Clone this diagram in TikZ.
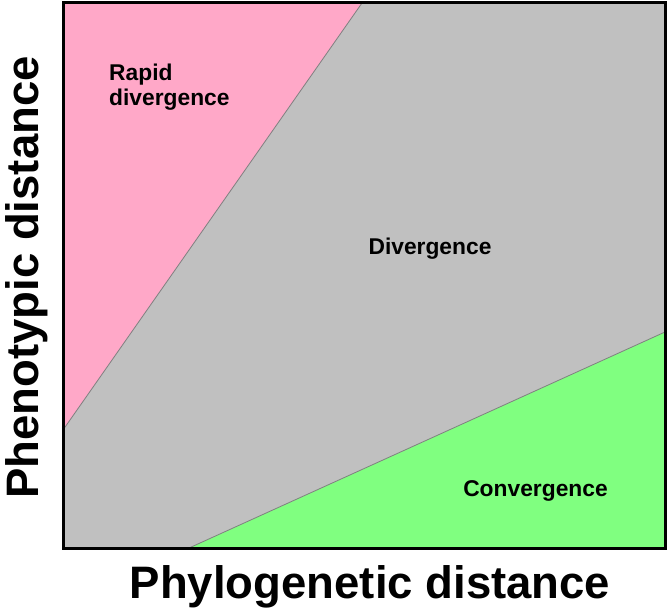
\documentclass[tikz,border=0pt]{standalone}
\usepackage{fontspec}
\setmainfont{Liberation Sans}
\definecolor{rpink}{HTML}{FFA8C8}
\definecolor{rgray}{HTML}{C0C0C0}
\definecolor{rgreen}{HTML}{80FF80}
\definecolor{rline}{HTML}{808080}
\begin{document}
\begin{tikzpicture}[x=1pt,y=-1pt,
  region/.style={draw=rline,line width=0.8pt},
  small/.style={font=\bfseries\fontsize{22.8}{25}\selectfont,inner sep=0pt},
  axis/.style={font=\bfseries\fontsize{45.5}{50}\selectfont,inner sep=0pt}]
\useasboundingbox (0,0) rectangle (668,610);
\coordinate (TL) at (63,3);
\coordinate (TR) at (665,3);
\coordinate (BR) at (665,548);
\coordinate (BL) at (63,548);
\coordinate (P1) at (362,3);
\coordinate (P2) at (63,430);
\coordinate (G1) at (189,548);
\coordinate (G2) at (665,332);
\fill[rgray] (TL) rectangle (BR);
\fill[rpink] (TL) -- (P1) -- (P2) -- cycle;
\fill[rgreen] (G1) -- (BR) -- (G2) -- cycle;
\draw[region] (P1) -- (P2);
\draw[region] (G1) -- (G2);
\draw[line width=3pt] (TL) rectangle (BR);
\node[small,anchor=base west,align=left] (rd) at (109,105) {Rapid\\divergence};
\node[small,anchor=base] (dv) at (430,254) {Divergence};
\node[small,anchor=base] (cv) at (535.5,496) {Convergence};
\node[axis,anchor=base] (xl) at (370,598) {Phylogenetic distance};
\node[axis,anchor=base,rotate=90] (yl) at (38,277.5) {Phenotypic distance};
\end{tikzpicture}
\end{document}
